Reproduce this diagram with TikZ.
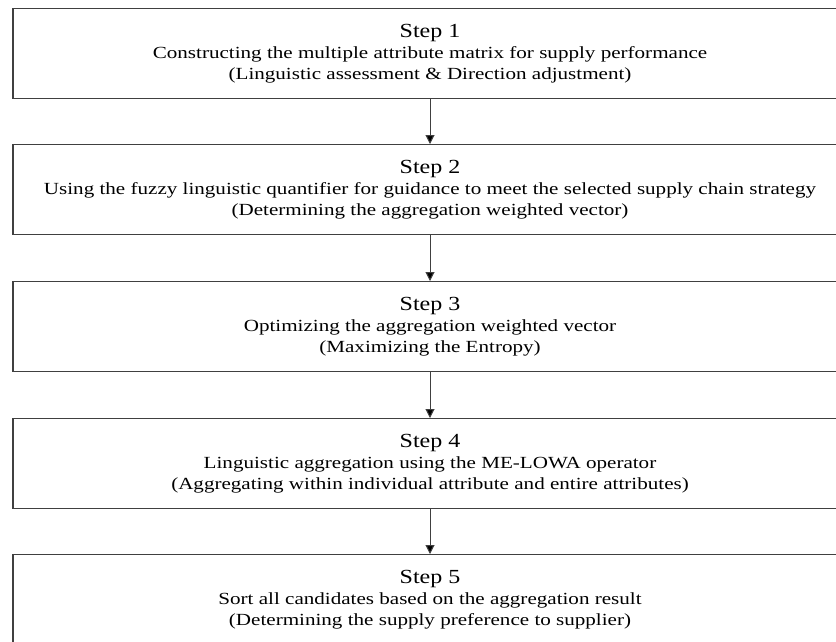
\documentclass[tikz,border=0pt]{standalone}
\usepackage{fontspec}
\setmainfont{Liberation Serif}
\usetikzlibrary{arrows.meta}
\newcommand{\titletext}[1]{\scalebox{1.2}[1]{\fontsize{20}{22}\selectfont #1}}
\newcommand{\bodytext}[1]{\scalebox{1.24}[1]{\fontsize{17}{20}\selectfont #1}}
\begin{document}
\begin{tikzpicture}[x=1pt,y=-1pt,
  stepbox/.style={draw=black!75,line width=1.4pt,minimum width=834pt,minimum height=90pt,inner sep=0pt,anchor=north},
  steptitle/.style={anchor=base,inner sep=0pt},
  stepline/.style={anchor=base,inner sep=0pt},
  flow/.style={draw=black!75,line width=1pt,-{Triangle[length=9pt,width=9pt,fill=black]}}]
\useasboundingbox (0,0) rectangle (836,641);
\clip (0,0) rectangle (836,641);
\node[stepbox] (b1) at (430,8) {};
\node[stepbox] (b2) at (430,144) {};
\node[stepbox] (b3) at (430,281) {};
\node[stepbox] (b4) at (430,418) {};
\node[stepbox] (b5) at (430,554) {};
\foreach \b/\s/\l/\m in {
  b1/Step 1/Constructing the multiple attribute matrix for supply performance/(Linguistic assessment \& Direction adjustment),
  b2/Step 2/Using the fuzzy linguistic quantifier for guidance to meet the selected supply chain strategy/(Determining the aggregation weighted vector),
  b3/Step 3/Optimizing the aggregation weighted vector/(Maximizing the Entropy),
  b4/Step 4/Linguistic aggregation using the ME-LOWA operator/(Aggregating within individual attribute and entire attributes),
  b5/Step 5/Sort all candidates based on the aggregation result/(Determining the supply preference to supplier)}{
  \node[steptitle] (\b t) at ([yshift=-29pt]\b.north) {\titletext{\s}};
  \node[stepline] (\b l) at ([yshift=-50pt]\b.north) {\bodytext{\l}};
  \node[stepline] (\b m) at ([yshift=-71pt]\b.north) {\bodytext{\m}};
}
\draw[flow] (b1.south) -- (b2.north);
\draw[flow] (b2.south) -- (b3.north);
\draw[flow] (b3.south) -- (b4.north);
\draw[flow] (b4.south) -- (b5.north);
\end{tikzpicture}
\end{document}
